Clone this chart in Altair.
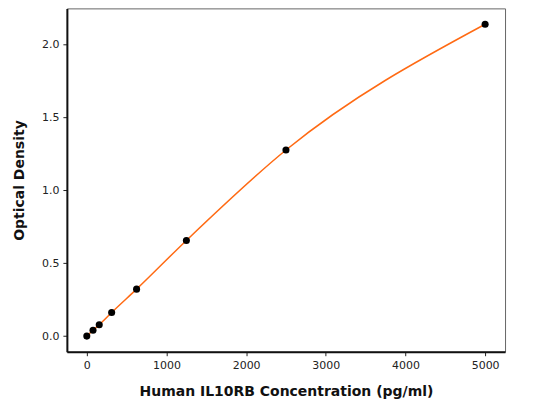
import altair as alt
import pandas as pd

# standard curve readings
conc = [0, 78, 156, 312, 625, 1250, 2500, 5000]
od = [0.0, 0.04, 0.078, 0.162, 0.322, 0.656, 1.276, 2.138]

source = pd.DataFrame({"conc": conc, "od": od})

x_scale = alt.Scale(domain=[-250, 5250], nice=False, zero=False)
y_scale = alt.Scale(domain=[-0.107, 2.247], nice=False, zero=False)

x_axis = alt.Axis(
    title="Human IL10RB Concentration (pg/ml)",
    values=[0, 1000, 2000, 3000, 4000, 5000],
    format="d",
    grid=False,
    domainColor="#111111",
    domainWidth=2,
    tickColor="#222222",
    tickSize=4,
    labelPadding=4,
    labelFontSize=11,
    labelColor="#222222",
    titleFontSize=14,
    titleFontWeight="bold",
    titleColor="#111111",
    titleY=40,
    titleBaseline="middle",
    zindex=1,
)

y_axis = alt.Axis(
    title="Optical Density",
    values=[0.0, 0.5, 1.0, 1.5, 2.0],
    format=".1f",
    grid=False,
    domainColor="#111111",
    domainWidth=2,
    tickColor="#222222",
    tickSize=4,
    labelPadding=4,
    labelFontSize=11,
    labelColor="#222222",
    titleFontSize=14,
    titleFontWeight="bold",
    titleColor="#111111",
    titleX=-47,
    titleBaseline="middle",
    zindex=1,
)

base = alt.Chart(source)

curve = base.mark_line(color="#ff6a13", strokeWidth=1.5, interpolate="monotone").encode(
    x=alt.X("conc:Q", scale=x_scale, axis=x_axis),
    y=alt.Y("od:Q", scale=y_scale, axis=y_axis),
)

pts = base.mark_circle(color="black", size=50, opacity=1).encode(
    x=alt.X("conc:Q", scale=x_scale),
    y=alt.Y("od:Q", scale=y_scale),
)

chart = (curve + pts).properties(
    width=439,
    height=344,
    autosize=alt.AutoSizeParams(type="none"),
    padding={"left": 59, "top": 0, "right": 20, "bottom": 48},
).configure(
    font="DejaVu Sans",
).configure_view(
    stroke="#666666",
    strokeWidth=1,
)

chart.save("out.html", embed_options={"renderer": "svg", "actions": False})
